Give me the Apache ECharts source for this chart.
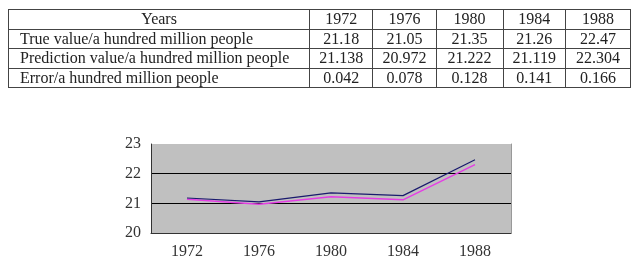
<!DOCTYPE html>
<html>
<head>
<meta charset="utf-8">
<script src="https://cdn.jsdelivr.net/npm/echarts@6/dist/echarts.min.js"></script>
<style>
  html, body { margin: 0; padding: 0; background: #fff; }
  #chart { position: absolute; left: 0; top: 0; width: 631px; height: 272px; }
  #tbl {
    position: absolute; left: 8px; top: 9px;
    border-collapse: collapse;
    font-family: "Liberation Serif", "DejaVu Serif", serif;
    font-size: 16px; color: #222;
  }
  #tbl td {
    border: 1px solid #444; height: 18.5px; padding: 0; line-height: 18.5px;
    text-align: center; white-space: nowrap;
  }
  #tbl td.head { text-align: left; padding-left: 11px; }
</style>
</head>
<body>
<div id="chart"></div>
<table id="tbl"></table>
<script>
const years = ['1972', '1976', '1980', '1984', '1988'];
const trueValues = [21.18, 21.05, 21.35, 21.26, 22.47];
const predictionValues = [21.138, 20.972, 21.222, 21.119, 22.304];
const errorValues = [0.042, 0.078, 0.128, 0.141, 0.166];

const rowNames = [
  'True value/a hundred million people',
  'Prediction value/a hundred million people',
  'Error/a hundred million people',
];
const colWidths = [291, 64, 64, 68, 63, 66];

// table on top
const tbl = document.getElementById('tbl');
function addRow(label, vals, isHeader) {
  const tr = document.createElement('tr');
  const first = document.createElement('td');
  first.textContent = label;
  if (!isHeader) first.className = 'head';
  first.style.width = colWidths[0] + 'px';
  tr.appendChild(first);
  vals.forEach((v, i) => {
    const td = document.createElement('td');
    td.textContent = v;
    td.style.width = colWidths[i + 1] + 'px';
    tr.appendChild(td);
  });
  tbl.appendChild(tr);
}
addRow('Years', years, true);
addRow(rowNames[0], trueValues.map(v => v.toFixed(2)));
addRow(rowNames[1], predictionValues.map(v => v.toFixed(3)));
addRow(rowNames[2], errorValues.map(v => v.toFixed(3)));

const chart = echarts.init(document.getElementById('chart'));
const labelFont = { fontFamily: 'Liberation Serif', fontSize: 16, color: '#333' };

chart.setOption({
  backgroundColor: '#ffffff',
  animation: false,
  grid: {
    left: 151, top: 144, width: 360, height: 89,
    show: true, backgroundColor: '#c0c0c0', borderWidth: 0,
  },
  xAxis: {
    type: 'category',
    data: years,
    boundaryGap: true,
    axisLine: { lineStyle: { color: '#333', width: 1 } },
    axisTick: { inside: true, length: 5, lineStyle: { color: '#333' } },
    axisLabel: Object.assign({ margin: 11 }, labelFont),
  },
  yAxis: [
    {
      type: 'value',
      min: 20, max: 23, interval: 1,
      axisLine: { show: true, lineStyle: { color: '#333' } },
      axisTick: { show: false },
      axisLabel: Object.assign({ margin: 10 }, labelFont),
      splitLine: { lineStyle: { color: ['#333', '#000', '#000', '#c0c0c0'], width: 1 } },
    },
    {
      type: 'value', position: 'right',
      min: 20, max: 23, interval: 1,
      axisLine: { show: true, lineStyle: { color: '#999' } },
      axisTick: { show: false }, axisLabel: { show: false }, splitLine: { show: false },
    },
  ],
  series: [
    {
      name: 'Prediction value',
      type: 'line',
      data: predictionValues,
      symbol: 'none',
      lineStyle: { color: '#e43ee4', width: 1.5 },
      z: 2,
    },
    {
      name: 'True value',
      type: 'line',
      data: trueValues,
      symbol: 'none',
      lineStyle: { color: '#1a1a6e', width: 1.2 },
      z: 3,
    },
  ],
});
</script>
</body>
</html>
